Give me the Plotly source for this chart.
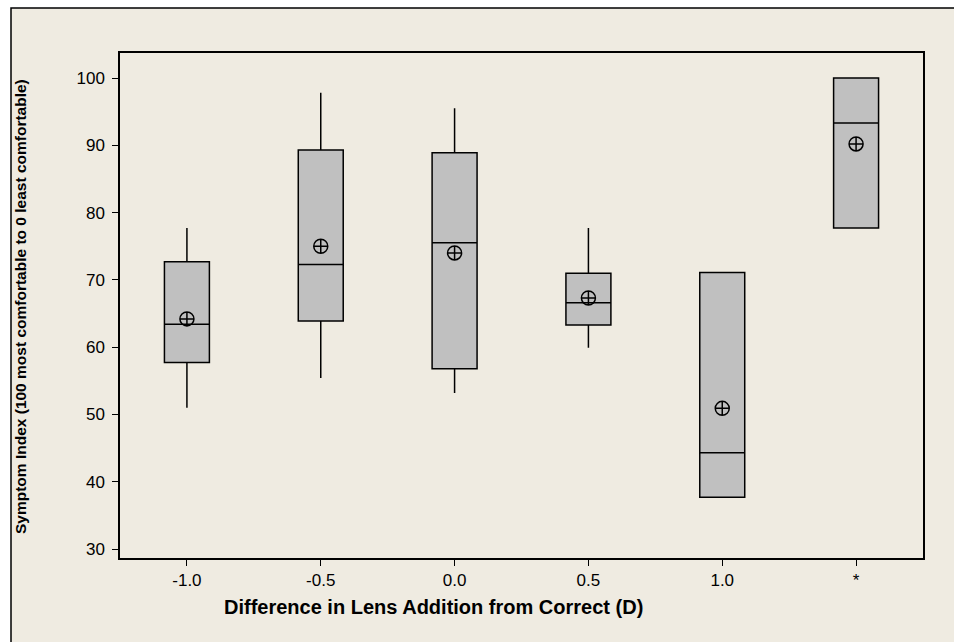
import plotly.graph_objects as go

categories = ["-1.0", "-0.5", "0.0", "0.5", "1.0", "*"]
lower_whisker = [51.0, 55.4, 53.2, 59.9, 37.7, 77.7]
q1 = [57.7, 63.9, 56.8, 63.3, 37.7, 77.7]
median = [63.4, 72.3, 75.5, 66.6, 44.3, 93.3]
q3 = [72.7, 89.3, 88.9, 71.0, 71.1, 100.0]
upper_whisker = [77.7, 97.8, 95.5, 77.7, 71.1, 100.0]
mean = [64.2, 75.0, 74.0, 67.3, 50.9, 90.2]
y_ticks = [30, 40, 50, 60, 70, 80, 90, 100]

W, H = 954, 642
L, R, T, B = 120, 923, 53, 558
pw, ph = R - L, B - T
def px(x):
    return (x - L) / pw
def py(y):
    return (B - y) / ph

xpos = list(range(len(categories)))

fig = go.Figure()
fig.add_trace(go.Box(
    x=xpos, q1=q1, median=median, q3=q3,
    lowerfence=lower_whisker, upperfence=upper_whisker,
    boxpoints=False, width=0.336, whiskerwidth=0,
    fillcolor="#C0C0C0", line=dict(color="black", width=1.5),
    showlegend=False, hoverinfo="skip",
))
fig.add_trace(go.Scatter(
    x=xpos, y=mean, mode="markers",
    marker=dict(symbol="circle-cross-open", size=14, color="black",
                line=dict(color="black", width=1.5)),
    showlegend=False, hoverinfo="skip",
))

font_fam = "Liberation Sans, Arial, sans-serif"

fig.update_layout(
    width=W, height=H,
    margin=dict(l=L, r=W - R, t=T, b=H - B),
    paper_bgcolor="white",
    plot_bgcolor="white",
    font=dict(family=font_fam, color="black"),
    shapes=[dict(type="rect", xref="paper", yref="paper",
                 x0=px(11), x1=px(970), y0=py(660), y1=py(8),
                 fillcolor="#EFEBE1", line=dict(color="black", width=1.5),
                 layer="below")],
    annotations=[
        dict(text="<b>Difference in Lens Addition from Correct (D)</b>",
             xref="paper", yref="paper", x=px(433), y=py(607),
             showarrow=False, font=dict(size=20, family=font_fam),
             xanchor="center", yanchor="middle"),
        dict(text="<b>Symptom Index (100 most comfortable to 0 least comfortable)</b>",
             xref="paper", yref="paper", x=px(20), y=py(307), textangle=-90,
             showarrow=False, font=dict(size=15.5, family=font_fam),
             xanchor="center", yanchor="middle"),
    ],
)
fig.update_xaxes(
    range=[-0.5, 5.5], tickmode="array", tickvals=xpos, ticktext=categories,
    showline=True, mirror=True, linecolor="black", linewidth=1.5,
    ticks="outside", ticklen=6, tickcolor="black", tickwidth=1,
    showgrid=False, zeroline=False, tickfont=dict(size=17),
)
fig.update_yaxes(
    range=[30 - 9 / 6.729, 100 + 25 / 6.729], tickmode="array", tickvals=y_ticks,
    showline=True, mirror=True, linecolor="black", linewidth=1.5,
    ticks="outside", ticklen=6, tickcolor="black", tickwidth=1,
    showgrid=False, zeroline=False, tickfont=dict(size=17),
    ticklabelstandoff=4,
)

fig.write_html("out.html")
